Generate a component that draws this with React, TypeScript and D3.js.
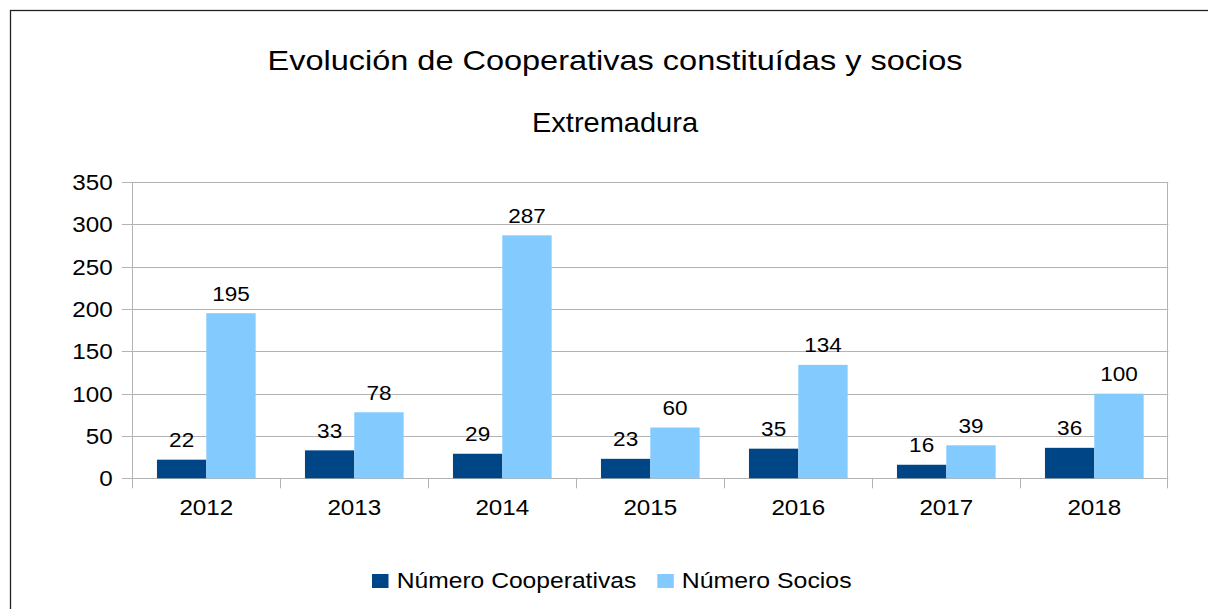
import React from "react";
import * as d3 from "d3";

const years = ["2012", "2013", "2014", "2015", "2016", "2017", "2018"];
const seriesNames = ["Número Cooperativas", "Número Socios"];
const cooperativas = [22, 33, 29, 23, 35, 16, 36];
const socios = [195, 78, 287, 60, 134, 39, 100];
const yTicks = [0, 50, 100, 150, 200, 250, 300, 350];
const colors = ["#004586", "#83caff"];
const title = "Evolución de Cooperativas constituídas y socios";
const subtitle = "Extremadura";

const W = 1208;
const H = 609;
const FONT = "'Liberation Sans', Arial, sans-serif";
const GRID = "#b3b3b3";

function T({ x, y, sx = 1.1, size, anchor = "middle", children }: any) {
  return (
    <text
      transform={`translate(${x},${y}) scale(${sx},1)`}
      textAnchor={anchor}
      fontSize={size}
      fontFamily={FONT}
      fill="#000"
    >
      {children}
    </text>
  );
}

export default function App() {
  const left = 132.3;
  const right = 1168.3;
  const top = 182;
  const bottom = 478.3;

  const x0 = d3.scaleBand<string>().domain(years).range([left, right]).padding(0);
  const x1 = d3
    .scaleBand<string>()
    .domain(seriesNames)
    .range([0, x0.bandwidth()])
    .paddingInner(0)
    .paddingOuter(0.5);
  const y = d3.scaleLinear().domain([0, 350]).range([bottom, top]);

  const data = [cooperativas, socios];

  return (
    <svg
      width={W}
      height={H}
      style={{ position: "absolute", left: 0, top: 0, background: "#fff" }}
    >
      <rect x={0} y={0} width={W} height={H} fill="#fff" />
      <rect x={10.5} y={10.5} width={W + 20} height={H + 20} fill="none" stroke="#222" strokeWidth={1.3} />

      <T x={615} y={69.5} size={28.5} sx={1.14}>{title}</T>
      <T x={615} y={131.5} size={27} sx={1.075}>{subtitle}</T>

      {/* gridlines */}
      {yTicks.map((t) => (
        <line
          key={"g" + t}
          x1={left - 10.5}
          x2={right}
          y1={Math.round(y(t)) + 0.5}
          y2={Math.round(y(t)) + 0.5}
          stroke={GRID}
          strokeWidth={1}
        />
      ))}
      {/* vertical axis and right edge */}
      <line x1={Math.round(left) + 0.5} x2={Math.round(left) + 0.5} y1={top} y2={bottom + 10} stroke={GRID} />
      <line x1={Math.round(right) - 0.5} x2={Math.round(right) - 0.5} y1={top} y2={bottom + 10} stroke={GRID} />
      {/* category ticks */}
      {years.slice(1).map((yr) => {
        const xx = Math.round(x0(yr) as number) + 0.5;
        return <line key={"t" + yr} x1={xx} x2={xx} y1={bottom} y2={bottom + 10} stroke={GRID} />;
      })}

      {/* y tick labels */}
      {yTicks.map((t) => (
        <T key={"yl" + t} x={112.7} y={y(t) + 8} size={22} anchor="end">
          {t}
        </T>
      ))}

      {/* bars */}
      {years.map((yr, i) =>
        seriesNames.map((s, j) => {
          const v = data[j][i];
          const bx = (x0(yr) as number) + (x1(s) as number);
          return (
            <rect
              key={yr + s}
              x={bx}
              y={y(v)}
              width={x1.bandwidth()}
              height={bottom - y(v)}
              fill={colors[j]}
            />
          );
        })
      )}

      {/* data labels */}
      {years.map((yr, i) =>
        seriesNames.map((s, j) => {
          const v = data[j][i];
          const cx = (x0(yr) as number) + (x1(s) as number) + x1.bandwidth() / 2;
          return (
            <T key={"l" + yr + s} x={cx} y={y(v) - 12.5} size={20.5}>
              {v}
            </T>
          );
        })
      )}

      {/* x labels */}
      {years.map((yr) => (
        <T key={"x" + yr} x={(x0(yr) as number) + x0.bandwidth() / 2} y={515} size={22}>
          {yr}
        </T>
      ))}

      {/* legend */}
      <rect x={372} y={574} width={16.5} height={14} fill={colors[0]} />
      <T x={396.7} y={588} size={22} sx={1.12} anchor="start">{seriesNames[0]}</T>
      <rect x={657.3} y={574} width={16.5} height={14} fill={colors[1]} />
      <T x={681.7} y={588} size={22} sx={1.13} anchor="start">{seriesNames[1]}</T>
    </svg>
  );
}
